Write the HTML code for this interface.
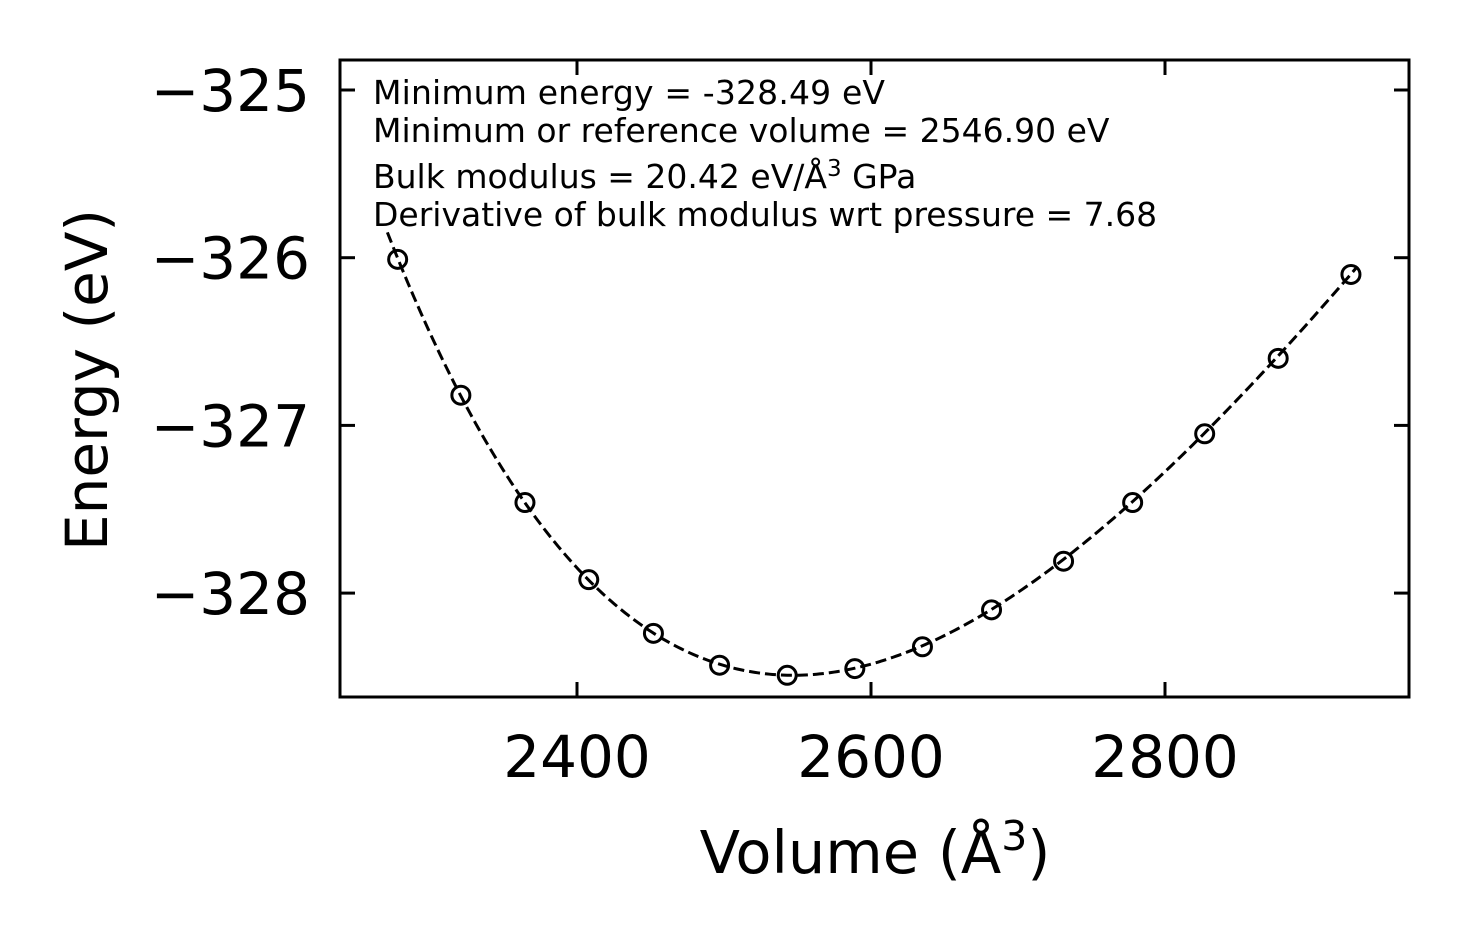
<!DOCTYPE html>
<html><head><meta charset="utf-8"><style>
body{margin:0;background:#fff;}
svg text{font-family:"DejaVu Sans","Liberation Sans",sans-serif;fill:#000;}
</style></head><body>
<svg id="chart" width="1469" height="943" viewBox="0 0 1469 943" xmlns="http://www.w3.org/2000/svg">
<g id="curve-layer"></g>
<g id="pts-layer"></g>
<rect x="340" y="60" width="1069" height="637" fill="none" stroke="#000" stroke-width="3"/>
<g id="ticks"></g>
<g font-size="33">
<text x="373" y="104" textLength="512">Minimum energy = -328.49 eV</text>
<text x="373" y="142">Minimum or reference volume = 2546.90 eV</text>
<text x="373" y="188">Bulk modulus = 20.42 eV/Å<tspan dy="-12" font-size="23">3</tspan><tspan dy="12"> GPa</tspan></text>
<text x="373" y="226">Derivative of bulk modulus wrt pressure = 7.68</text>
</g>
<text x="875" y="873" font-size="59" text-anchor="middle">Volume (Å<tspan dy="-23" font-size="41">3</tspan><tspan dy="23">)</tspan></text>
<text transform="translate(107,380) rotate(-90)" font-size="58" text-anchor="middle">Energy (eV)</text>
</svg>
<script>
const volumes=[2278,2321,2364.6,2408,2452,2497,2543,2589,2635,2682,2731,2778,2827,2877,2926.5];
const energies=[-326.01,-326.82,-327.46,-327.92,-328.24,-328.43,-328.49,-328.45,-328.32,-328.10,-327.81,-327.46,-327.05,-326.60,-326.10];
const xTicks=[2400,2600,2800];
const yTicks=[-325,-326,-327,-328];
const fitE0=-328.49, fitV0=2546.90, fitB=20.42, fitBp=7.68;
const NS='http://www.w3.org/2000/svg';
function sx(v){return 577+(v-2400)*1.47;}
function sy(e){return 90+(-325-e)*167.7;}
function bm(V){const B=fitB/160.2177;const eta=Math.pow(fitV0/V,2/3);const x=eta-1;
 return fitE0+9*fitV0*B/16*(x*x*x*fitBp+x*x*(6-4*eta));}
let d='';
for(let V=2271;V<=2932;V+=2){d+=(d?'L':'M')+sx(V).toFixed(2)+','+sy(bm(V)).toFixed(2);}
const p=document.createElementNS(NS,'path');


p.setAttribute('d',d);p.setAttribute('fill','none');p.setAttribute('stroke','#000');
p.setAttribute('stroke-width','3');p.setAttribute('stroke-dasharray','11,5');
document.getElementById('curve-layer').appendChild(p);
const pl=document.getElementById('pts-layer');
volumes.forEach((v,i)=>{const c=document.createElementNS(NS,'circle');
 
 
 c.setAttribute('cx',sx(v));c.setAttribute('cy',sy(energies[i]));c.setAttribute('r','9');
 c.setAttribute('fill','none');c.setAttribute('stroke','#000');c.setAttribute('stroke-width','3');
 pl.appendChild(c);});
const tg=document.getElementById('ticks');
function line(x1,y1,x2,y2,name){const l=document.createElementNS(NS,'line');
 
 
 l.setAttribute('x1',x1);l.setAttribute('y1',y1);l.setAttribute('x2',x2);l.setAttribute('y2',y2);
 l.setAttribute('stroke','#000');l.setAttribute('stroke-width','3');tg.appendChild(l);}
function txt(x,y,s,anchor,name){const t=document.createElementNS(NS,'text');
 
 
 t.setAttribute('x',x);t.setAttribute('y',y);t.setAttribute('font-size','58');
 t.setAttribute('text-anchor',anchor);t.textContent=s;tg.appendChild(t);}
xTicks.forEach(v=>{const x=sx(v);line(x,697,x,682,'x-tick');line(x,60,x,75,'x-tick-top');
 txt(x,777,String(v),'middle','x-tick-label');});
yTicks.forEach(v=>{const y=sy(v);line(340,y,355,y,'y-tick');line(1409,y,1394,y,'y-tick-right');
 txt(310,y+21,'\u2212'+String(Math.abs(v)),'end','y-tick-label');});
</script>
</body></html>
